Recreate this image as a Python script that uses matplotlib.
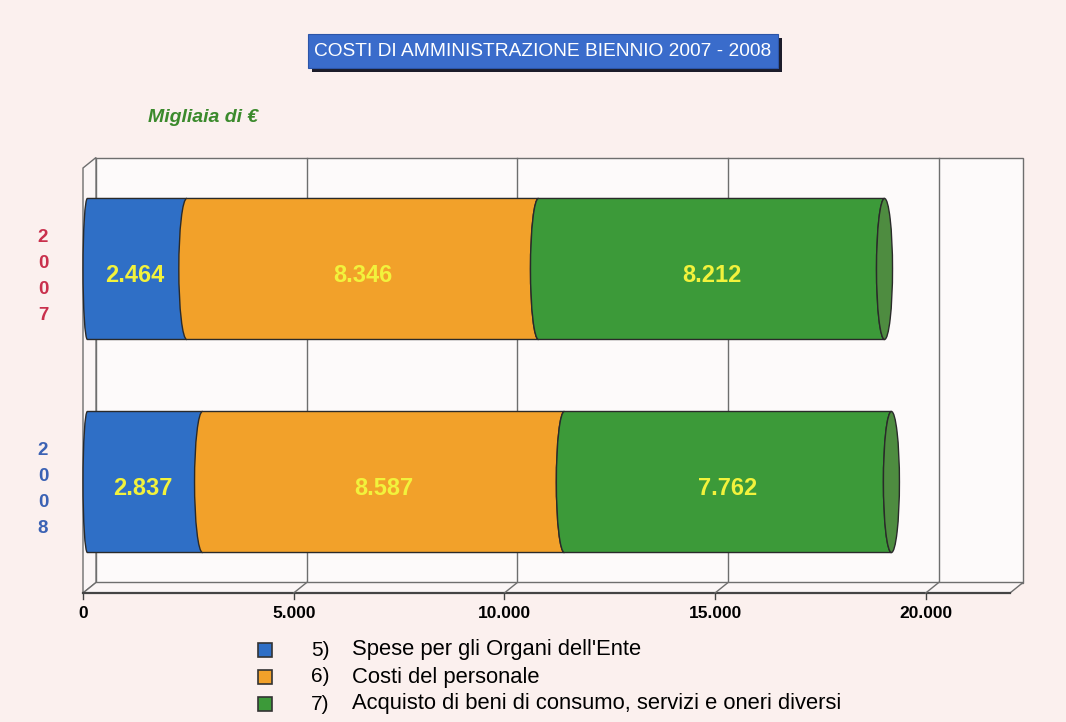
import numpy as np
import matplotlib
matplotlib.use('Agg')
import matplotlib.pyplot as plt
from matplotlib.path import Path
from matplotlib.patches import PathPatch, Ellipse, Rectangle, Polygon
from matplotlib.transforms import ScaledTranslation

# data (migliaia di euro)
years = ['2007', '2008']
year_colors = ['#c9304c', '#3b62b4']
categories = ['Spese per gli Organi dell\'Ente',
              'Costi del personale',
              'Acquisto di beni di consumo, servizi e oneri diversi']
cat_numbers = ['5)', '6)', '7)']
values = {
    '2007': [2464, 8346, 8212],
    '2008': [2837, 8587, 7762],
}
value_labels = {
    '2007': ['2.464', '8.346', '8.212'],
    '2008': ['2.837', '8.587', '7.762'],
}
xticks = [0, 5000, 10000, 15000, 20000]
xtick_labels = ['0', '5.000', '10.000', '15.000', '20.000']

seg_colors = ['#2f6fc6', '#f2a12a', '#3c9a39']
cap_color = '#4e8c40'
bg = '#fbf0ee'
grid_c = '#6e6e6e'
fonts = ['Liberation Sans', 'DejaVu Sans']

fig = plt.figure(figsize=(10.66, 7.22), dpi=100, facecolor=bg)
W, H = 1066, 722


def fx(px):
    return px / W


def fy(py):
    return 1 - py / H


# front plane of the 3d box
ax = fig.add_axes([fx(83), fy(593), fx(1010) - fx(83), fy(168) - fy(593)])
ax.set_xlim(0, 22000)
ax.set_ylim(-0.521, 1.474)
ax.axis('off')
ax.patch.set_alpha(0)

# back wall is shifted up/right
back = ax.transData + ScaledTranslation(13 / 100, 10.5 / 100, fig.dpi_scale_trans)
x0, x1 = ax.get_xlim()
y0, y1 = ax.get_ylim()

wall = Rectangle((x0, y0), x1 - x0, y1 - y0, transform=back, facecolor='#fdfafa',
                 edgecolor=grid_c, lw=1.0, clip_on=False, zorder=0)
ax.add_patch(wall)

inv = ax.transData.inverted()


def to_front(x, y):
    return inv.transform(back.transform((x, y)))


# left side wall, floor
bl = to_front(x0, y0)
tl = to_front(x0, y1)
br = to_front(x1, y0)
ax.add_patch(Polygon([(x0, y0), (x0, y1), tl, bl], closed=True, facecolor='#fbf6f6',
                     edgecolor=grid_c, lw=1.0, clip_on=False, zorder=0.5))
ax.add_patch(Polygon([(x0, y0), bl, br, (x1, y0)], closed=True, facecolor='#fbf6f6',
                     edgecolor=grid_c, lw=1.0, clip_on=False, zorder=0.5))
ax.plot([x0, x1], [y0, y0], color='#444444', lw=1.6, clip_on=False, zorder=0.6)

# grid lines on back wall + floor
for t in xticks[1:]:
    ax.plot([t, t], [y0, y1], color=grid_c, lw=1.0, transform=back, clip_on=False, zorder=0.4)
    p = to_front(t, y0)
    ax.plot([t, p[0]], [y0, p[1]], color=grid_c, lw=1.0, clip_on=False, zorder=0.6)
for t, lab in zip(xticks, xtick_labels):
    ax.plot([t, t], [y0, y0 - 0.03], color='#444444', lw=1.0, clip_on=False)
    ax.text(t, y0 - 0.095, lab, ha='center', va='center', fontsize=12.5, fontweight='bold',
            family=fonts, clip_on=False)

# cylinders
cap_w = 190
half_h = 0.331
k = 0.5523


def segment_path(xa, xb, yc, h, w):
    verts = [(xa, yc + h),
             (xa - w * k, yc + h), (xa - w, yc + h * k), (xa - w, yc),
             (xa - w, yc - h * k), (xa - w * k, yc - h), (xa, yc - h),
             (xb, yc - h),
             (xb - w * k, yc - h), (xb - w, yc - h * k), (xb - w, yc),
             (xb - w, yc + h * k), (xb - w * k, yc + h), (xb, yc + h),
             (xa, yc + h)]
    codes = [Path.MOVETO] + [Path.CURVE4] * 6 + [Path.LINETO] + [Path.CURVE4] * 6 + [Path.CLOSEPOLY]
    return Path(verts, codes)


ypos = {'2007': 1, '2008': 0}
for yi, year in enumerate(years):
    yc = ypos[year]
    left = 0
    for ci, v in enumerate(values[year]):
        right = left + v
        w = cap_w * 0.55 if ci == 0 else cap_w
        patch = PathPatch(segment_path(left + (w if ci == 0 else 0), right, yc, half_h, w),
                          facecolor=seg_colors[ci], edgecolor='#2a2a2a', lw=1.0,
                          zorder=2, clip_on=False)
        ax.add_patch(patch)
        ax.text(left + v / 2, yc - 0.03, value_labels[year][ci], ha='center', va='center',
                color='#f2f23c', fontsize=17, fontweight='bold', family=fonts, zorder=4)
        left = right
    ax.add_patch(Ellipse((left, yc), 2 * cap_w, 2 * half_h, facecolor=cap_color,
                         edgecolor='#2a2a2a', lw=1.0, zorder=3, clip_on=False))

    # year written vertically
    ax.text(-950, yc - 0.035, '\n'.join(year), ha='center', va='center', color=year_colors[yi],
            fontsize=13.5, fontweight='bold', linespacing=1.68, family=fonts, clip_on=False)

# title box with shadow
title = 'COSTI DI AMMINISTRAZIONE BIENNIO 2007 - 2008'
fig.patches.append(Rectangle((fx(312), fy(72)), fx(782) - fx(312), fy(38) - fy(72),
                             transform=fig.transFigure, facecolor='#1c1c2a', edgecolor='none'))
fig.patches.append(Rectangle((fx(308), fy(68)), fx(778) - fx(308), fy(34) - fy(68),
                             transform=fig.transFigure, facecolor='#3a6ccb', edgecolor='#2c55a8', lw=0.8))
fig.text(fx(543), fy(51), title, ha='center', va='center', color='white', fontsize=13.8,
         family=fonts)

fig.text(fx(148), fy(118), 'Migliaia di €', ha='left', va='center', color='#3b8a2c',
         fontsize=14, fontweight='bold', fontstyle='italic', family=fonts)

# legend
leg_y = [650, 677, 704]
for i, (num, cat) in enumerate(zip(cat_numbers, categories)):
    fig.patches.append(Rectangle((fx(258), fy(leg_y[i] + 7)), fx(14), fy(0) - fy(14),
                                 transform=fig.transFigure, facecolor=seg_colors[i],
                                 edgecolor='#333333', lw=1.2))
    fig.text(fx(311), fy(leg_y[i]), num, ha='left', va='center', fontsize=15, family=fonts)
    fig.text(fx(352), fy(leg_y[i]), cat, ha='left', va='center', fontsize=15.8, family=fonts)

fig.savefig('out.png', dpi=100, facecolor=bg)
